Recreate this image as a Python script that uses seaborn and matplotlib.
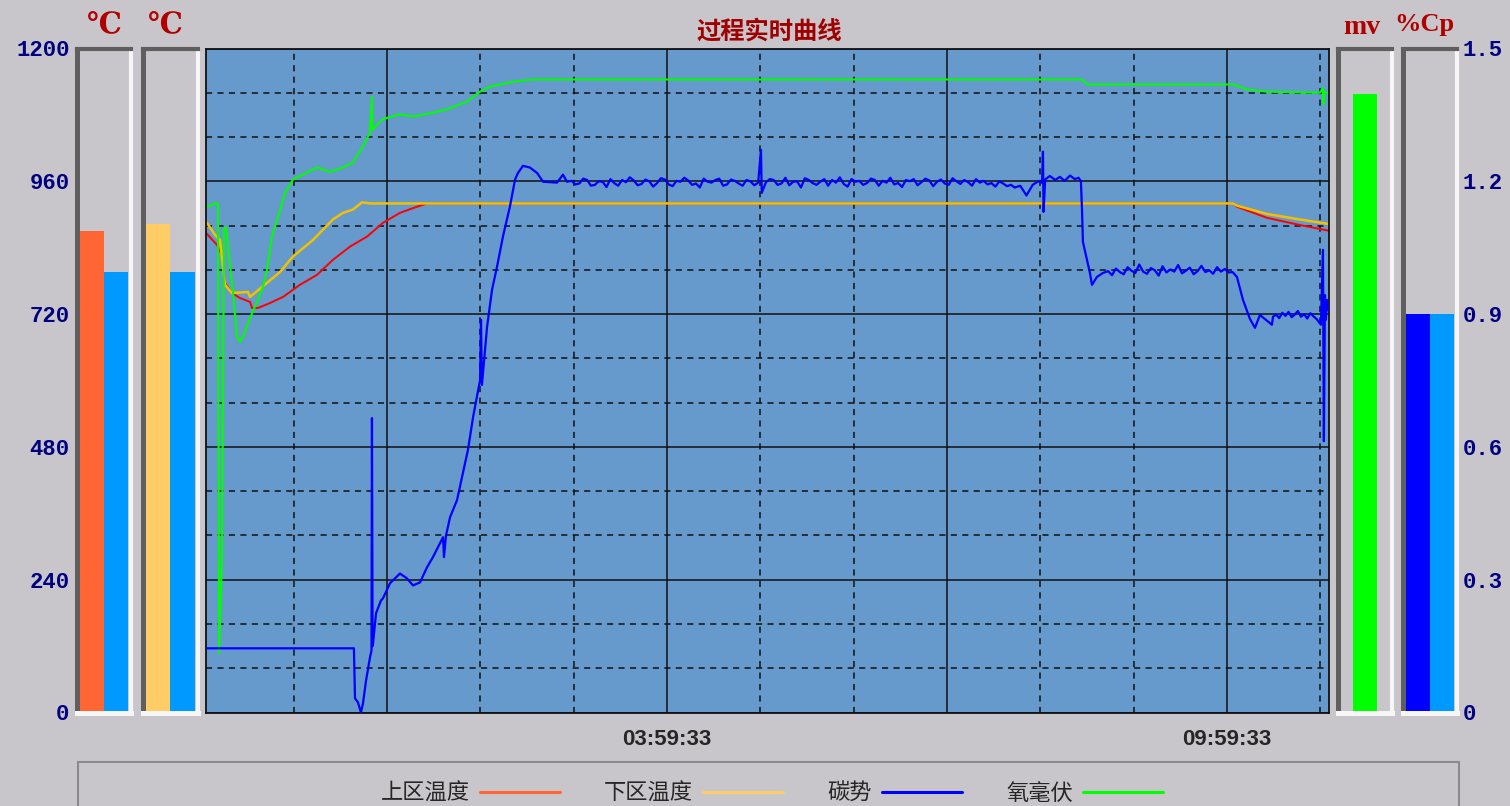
# -*- coding: utf-8 -*-
"""
过程实时曲线：上/下区温度、碳势、氧毫伏 + 两侧棒状仪表
"""

import matplotlib
matplotlib.use("Agg")

import matplotlib.pyplot as plt
import seaborn as sns
from matplotlib.lines import Line2D
from matplotlib.patches import Rectangle

sns.set_style("white")
plt.rcParams["font.family"] = ["Noto Sans CJK SC", "DejaVu Sans"]
plt.rcParams["axes.unicode_minus"] = False


# ==========================================================================================
# 数据（时间单位：距曲线起点的分钟数）
# ==========================================================================================

START_TIME = "23:03:09"
TIME_LABELS = ["03:59:33", "09:59:33"]

upper_t = [0.6, 7.1, 10.3, 12.2, 16.7, 21.9, 28.3, 29.6, 33.4, 41.1, 49.5, 60.4, 71.4,
           81.6, 92.6, 103.5, 113.8, 124.7, 135.6, 142.1, 660.3, 662.8, 682.1, 703.3, 721.3]
upper_v = [865, 845, 827, 776, 758, 749, 742, 731, 731, 740, 751, 773, 791,
           818, 842, 860, 885, 903, 914, 920, 920, 914, 894, 881, 871]

lower_t = [0.6, 5.8, 9.0, 12.2, 16.7, 27.0, 28.3, 36.0, 47.6, 55.9, 68.8, 81.6, 88.1,
           94.5, 100.3, 105.4, 660.3, 662.8, 682.1, 703.3, 721.3]
lower_v = [885, 863, 854, 773, 758, 760, 751, 769, 796, 824, 854, 891, 903,
           909, 922, 920, 920, 916, 901, 891, 883]

oxygen_t = [0.6, 7.1, 7.7, 8.4, 10.3, 11.6, 12.9, 17.4, 19.9, 21.9, 23.8, 28.3, 33.4,
            36.6, 39.2, 42.4, 46.3, 50.8, 55.9, 64.9, 71.4, 79.7, 88.1, 94.5, 100.9,
            105.4, 106.7, 107.0, 113.2, 124.7, 133.1, 145.9, 154.9, 167.8, 176.2, 182.6,
            197.4, 210.2, 563.2, 566.4, 660.3, 669.2, 682.1, 716.2, 718.1, 718.4, 718.7, 721.3]
oxygen_v = [914, 921, 918, 107, 288, 876, 876, 758, 679, 670, 679, 713, 746,
            769, 800, 860, 896, 939, 963, 976, 985, 977, 985, 994, 1023,
            1048, 1113, 1053, 1072, 1081, 1077, 1084, 1090, 1104, 1122, 1131,
            1140, 1144, 1144, 1135, 1135, 1126, 1122, 1120, 1129, 1099, 1120, 1120]

carbon_t = [0.6, 95.1, 95.8, 97.7, 99.6, 100.9, 102.9, 105.4, 106.4, 106.7, 107.1, 107.4,
            109.3, 112.5, 113.8, 118.3, 124.7, 129.2, 133.1, 137.6, 142.1, 145.9, 150.4,
            152.4, 153.0, 154.3, 156.9, 161.4, 165.2, 168.4, 171.7, 174.2, 176.2, 176.8,
            177.4, 180.7, 183.9, 187.1, 190.9, 195.4, 198.7, 200.6, 203.8, 208.3, 212.8,
            216.7, 225.7, 229.5, 232.1,
            235, 237.5, 240, 242.5, 245, 247.5, 250, 252.5, 255, 257.5, 260, 262.5, 265,
            267.5, 270, 272.5, 275, 277.5, 280, 282.5, 285, 287.5, 290, 292.5, 295, 297.5,
            300, 302.5, 305, 307.5, 310, 312.5, 315, 317.5, 320, 322.5, 325, 327.5, 330,
            332.5, 335, 337.5, 340, 342.5, 345, 347.5, 350, 352.5, 355,
            356.8, 357.3,
            360, 362.5, 365, 367.5, 370, 372.5, 375, 377.5, 380, 382.5, 385, 387.5, 390,
            392.5, 395, 397.5, 400, 402.5, 405, 407.5, 410, 412.5, 415, 417.5, 420, 422.5,
            425, 427.5, 430, 432.5, 435, 437.5, 440, 442.5, 445, 447.5, 450, 452.5, 455,
            457.5, 460, 462.5, 465, 467.5, 470, 472.5, 475, 477.5, 480, 482.5, 485, 487.5,
            490, 492.5, 495, 497.5, 500, 502.5, 505, 507.5, 510, 512.5, 515, 517.5, 520,
            523.5, 527.5, 531.5, 535, 537.5, 538.1, 538.5, 539.5, 542.5, 546, 549, 552,
            555.5, 558.5, 561, 562.5, 563.2, 563.8, 566.4, 568.3, 569.6, 572.8, 576.7,
            580, 582.5, 585, 587.5, 590, 592.5, 595, 597.5, 600, 602.5, 605, 607.5, 610,
            612.5, 615, 617.5, 620, 622.5, 625, 627.5, 630, 632.5, 635, 637.5, 640, 642.5,
            645, 647.5, 650, 652.5, 655, 657.5, 660,
            662.8, 666.7, 671.2, 674.4, 677.6, 682.1, 685.3, 686.0,
            688, 690, 692, 694, 696, 698, 700, 702, 704, 706, 708, 710, 712, 714,
            716.8, 718.1, 718.7, 719.4, 720.0, 720.7, 721.3]
carbon_v = [0.145, 0.145, 0.032, 0.023, 0.0, 0.020, 0.072, 0.124, 0.140, 0.665, 0.150, 0.156,
            0.224, 0.253, 0.258, 0.292, 0.314, 0.303, 0.287, 0.294, 0.328, 0.351, 0.382,
            0.396, 0.351, 0.400, 0.441, 0.480, 0.541, 0.593, 0.667, 0.713, 0.751, 0.887,
            0.740, 0.871, 0.955, 1.007, 1.075, 1.143, 1.204, 1.219, 1.235, 1.231, 1.219,
            1.199, 1.197, 1.215, 1.199,
            1.201, 1.193, 1.195, 1.206, 1.203, 1.190, 1.192, 1.200, 1.199, 1.187,
            1.205, 1.196, 1.190, 1.203, 1.198, 1.209, 1.202, 1.191, 1.194, 1.204,
            1.200, 1.188, 1.196, 1.207, 1.204, 1.193, 1.189, 1.201, 1.199, 1.208,
            1.202, 1.192, 1.195, 1.186, 1.206, 1.199, 1.197, 1.203, 1.206, 1.190,
            1.193, 1.204, 1.201, 1.195, 1.190, 1.203, 1.200, 1.191, 1.197,
            1.271, 1.174,
            1.198, 1.205, 1.203, 1.192, 1.195, 1.208, 1.191, 1.199, 1.200, 1.186,
            1.207, 1.203, 1.196, 1.192, 1.199, 1.205, 1.190, 1.203, 1.197, 1.209,
            1.194, 1.188, 1.205, 1.199, 1.201, 1.192, 1.196, 1.206, 1.203, 1.190,
            1.201, 1.197, 1.208, 1.193, 1.196, 1.187, 1.203, 1.200, 1.205, 1.191,
            1.198, 1.206, 1.202, 1.189, 1.199, 1.204, 1.195, 1.192, 1.207, 1.200,
            1.194, 1.203, 1.198, 1.190, 1.205, 1.197, 1.201, 1.193, 1.196, 1.188,
            1.200, 1.195, 1.189, 1.192, 1.186,
            1.190, 1.168, 1.192, 1.200, 1.197, 1.267, 1.131, 1.204, 1.212, 1.203, 1.210,
            1.201, 1.213, 1.205, 1.208, 1.200, 1.136, 1.063, 1.023, 0.993, 0.966, 0.984,
            0.993,
            0.997, 0.988, 1.003, 0.995, 0.990, 1.006, 0.998, 0.993, 1.012, 0.996,
            0.991, 1.004, 0.999, 0.987, 1.008, 0.994, 1.001, 0.996, 1.011, 0.992,
            0.998, 1.005, 0.990, 0.997, 1.009, 0.995, 0.999, 0.991, 1.006, 0.996,
            1.002, 0.994, 0.995,
            0.984, 0.932, 0.889, 0.869, 0.898, 0.885, 0.876, 0.894,
            0.899, 0.891, 0.903, 0.896, 0.905, 0.893, 0.899, 0.907, 0.894, 0.900, 0.890,
            0.902, 0.895, 0.889,
            0.876, 1.045, 0.613, 0.943, 0.887, 0.932, 0.909]

# 棒状仪表
zone1_bars = [870, 796]      # 上区温度 / 设定
zone2_bars = [883, 796]      # 下区温度 / 设定
mv_bars = [1117]             # 氧毫伏
cp_bars = [0.90, 0.90]       # 碳势 / 设定

legend_labels = ["上区温度", "下区温度", "碳势", "氧毫伏"]
legend_colors = ["#ff6633", "#ffcc66", "#0000ff", "#00ff00"]


# ==========================================================================================
# 样式
# ==========================================================================================

W, H = 1510, 806
BG = "#c8c6ca"
PLOT_BG = "#6699cc"
UNIT_RED = "#b00000"
NAVY = "#000080"


def minutes_after_start(stamp):
    h, m, s = (int(x) for x in stamp.split(":"))
    h0, m0, s0 = (int(x) for x in START_TIME.split(":"))
    return ((h * 60 + m + s / 60) - (h0 * 60 + m0 + s0 / 60)) % 1440


def box(x0, x1, y0=48.5, y1=712.5):
    """像素坐标 -> figure 坐标"""
    return [x0 / W, 1 - y1 / H, (x1 - x0) / W, (y1 - y0) / H]


def draw_panel(ax, values, colors, ylim, xlim=(-0.64, 1.63)):
    idx = list(range(len(values)))
    sns.barplot(x=idx, y=values, hue=idx, palette=colors, width=0.98 if len(values) == 1 else 1.0,
                saturation=1, linewidth=0, legend=False, ax=ax)
    ax.set_xlim(*xlim)
    ax.set_ylim(*ylim)
    ax.set_facecolor("none")
    ax.set_xticks([])
    ax.set_yticks([])
    ax.set_xlabel("")
    ax.set_ylabel("")
    ax.spines["left"].set(color="#5f5f5f", linewidth=3.6)
    ax.spines["top"].set(color="#5f5f5f", linewidth=3.0)
    ax.spines["right"].set(color="#f6f6f6", linewidth=3.0)
    ax.spines["bottom"].set(color="#f6f6f6", linewidth=3.6)


def style_scale_labels(ax):
    ax.tick_params(axis="y", length=0, labelcolor=NAVY, labelsize=16)
    for lbl in ax.get_yticklabels():
        lbl.set_fontfamily("Liberation Mono")
        lbl.set_fontweight("bold")


fig = plt.figure(figsize=(W / 100, H / 100), dpi=100, facecolor=BG)


# ==========================================================================================
# 主曲线区
# ==========================================================================================

ax = fig.add_axes(box(206, 1329))
ax.set_facecolor(PLOT_BG)

sns.lineplot(x=upper_t, y=upper_v, color="#ff0000", linewidth=1.4, estimator=None, sort=False, ax=ax)
sns.lineplot(x=lower_t, y=lower_v, color="#f2c200", linewidth=1.8, estimator=None, sort=False, ax=ax)
sns.lineplot(x=oxygen_t, y=oxygen_v, color="#00ff00", linewidth=1.5, estimator=None, sort=False, ax=ax)

ax.set_xlim(0, 722)
ax.set_ylim(0, 1200)

label_pos = [minutes_after_start(s) for s in TIME_LABELS]
major_x = [label_pos[0] - 180, label_pos[0], label_pos[1] - 180, label_pos[1]]
minor_x = [m + k * 60 for m in major_x for k in (-1, 1, 2) if 0 < m + k * 60 < 722]
minor_x = sorted(set(round(m, 2) for m in minor_x) - set(round(m, 2) for m in major_x))
ax.set_xticks(major_x)
ax.set_xticklabels(["", TIME_LABELS[0], "", TIME_LABELS[1]])
ax.set_xticks(minor_x, minor=True)
ax.set_yticks(range(0, 1201, 240))
ax.set_yticks([v for v in range(80, 1200, 80) if v % 240], minor=True)
ax.set_yticklabels([])
ax.tick_params(which="both", length=0)
ax.tick_params(axis="x", pad=12)
for lbl in ax.get_xticklabels():
    lbl.set_fontfamily("Liberation Sans")
    lbl.set_fontweight("bold")
    lbl.set_fontsize(16)
ax.set_axisbelow(True)
ax.grid(True, which="major", color="#111111", linewidth=1.1)
ax.grid(True, which="minor", color="#111111", linewidth=1.1, linestyle=(0, (4, 3.5)))
for s in ax.spines.values():
    s.set(color="#111111", linewidth=1.3)
ax.set_xlabel("")
ax.set_ylabel("")

ax2 = ax.twinx()
sns.lineplot(x=carbon_t, y=carbon_v, color="#0000ff", linewidth=1.6, estimator=None, sort=False, ax=ax2)
ax2.set_ylim(0, 1.5)
ax2.set_xlim(0, 722)
ax2.set_axis_off()


# ==========================================================================================
# 棒状仪表
# ==========================================================================================

p1 = fig.add_axes(box(76.5, 131))
draw_panel(p1, zone1_bars, ["#ff6633", "#0099ff"], (0, 1200))
p1.set_yticks(range(0, 1201, 240))
p1.tick_params(axis="y", pad=5)
style_scale_labels(p1)

p2 = fig.add_axes(box(142.5, 198))
draw_panel(p2, zone2_bars, ["#ffcc66", "#0099ff"], (0, 1200))

p3 = fig.add_axes(box(1337.5, 1392))
draw_panel(p3, mv_bars, ["#00ff00"], (0, 1200), xlim=(-1.14, 1.13))

p4 = fig.add_axes(box(1402.5, 1457))
draw_panel(p4, cp_bars, ["#0000ff", "#0099ff"], (0, 1.5))
p4.yaxis.tick_right()
p4.set_yticks([0, 0.3, 0.6, 0.9, 1.2, 1.5])
p4.set_yticklabels(["0", "0.3", "0.6", "0.9", "1.2", "1.5"])
p4.tick_params(axis="y", pad=4)
style_scale_labels(p4)


# ==========================================================================================
# 文字
# ==========================================================================================

fig.text(769 / W, 1 - 32 / H, "过程实时曲线", color="#a00000", fontsize=17.5,
         fontweight="bold", ha="center", va="center")
for x, txt, y, size in [(104, "℃", 25, 21), (165, "℃", 25, 21), (1362, "mv", 27, 20), (1424, "%Cp", 24, 19)]:
    fig.text(x / W, 1 - y / H, txt, color=UNIT_RED, fontsize=size, fontweight="bold",
             family=["Liberation Serif", "DejaVu Serif"], ha="center", va="center")

# 图例
fig.add_artist(Rectangle((78 / W, -0.05), (1459 - 78) / W, (806 - 762) / H + 0.05,
                         transform=fig.transFigure, fill=False, edgecolor="#8a8a8a", linewidth=1.5))
handles = [Line2D([], [], color=c, linewidth=2.2) for c in legend_colors]
fig.legend(handles, legend_labels, loc="center", bbox_to_anchor=(772 / W, 1 - 793 / H),
           ncol=4, frameon=False, markerfirst=False, handlelength=3.6, handletextpad=0.45,
           columnspacing=2.0, fontsize=16)

fig.savefig("out.png", dpi=100, facecolor=fig.get_facecolor())
plt.close(fig)
